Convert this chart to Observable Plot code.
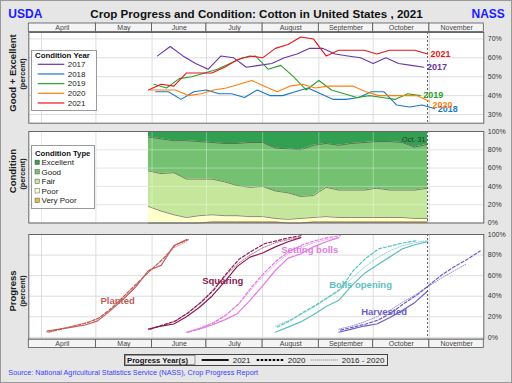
<!DOCTYPE html>
<html><head><meta charset="utf-8">
<script src="https://cdn.jsdelivr.net/npm/d3@7"></script>
<script src="https://cdn.jsdelivr.net/npm/@observablehq/plot@0.6"></script>
<style>
body{margin:0;background:#fff;}
#root{position:relative;width:512px;height:383px;background:#e6e6e6;overflow:hidden;font-family:"Liberation Sans",Arial,Helvetica,sans-serif;}
.vt{position:absolute;transform:translate(-50%,-50%) rotate(-90deg);white-space:nowrap;font-weight:bold;line-height:1;color:#1a1a1a;}
</style></head><body><div id="root"></div>
<script>
// ---------- data ----------
const MONTH_NAMES = ["April","May","June","July","August","September","October","November"];
const MONTH_STARTS = ["04-01","05-01","06-01","07-01","08-01","09-01","10-01","11-01"];

const YEARS = ["2017","2018","2019","2020","2021"];
const YEAR_COLORS = ["#6a35a8","#1a78c2","#2ca02c","#ff7f0e","#e8141c"];

const WEEKS_2017 = ["06-04","06-11","06-18","06-25","07-02","07-09","07-16","07-23","07-30","08-06","08-13","08-20","08-27","09-03","09-10","09-17","09-24","10-01","10-08","10-15","10-22","10-29"];
const WEEKS_2018 = ["06-03","06-10","06-17","06-24","07-01","07-08","07-15","07-22","07-29","08-05","08-12","08-19","08-26","09-02","09-09","09-16","09-23","09-30","10-07","10-14","10-21","10-28","11-04"];
const WEEKS_2019 = ["06-02","06-09","06-16","06-23","06-30","07-07","07-14","07-21","07-28","08-04","08-11","08-18","08-25","09-01","09-08","09-15","09-22","09-29","10-06","10-13","10-20","10-27"];
const WEEKS_2020 = ["04-05","04-12","04-19","04-26","05-03","05-10","05-17","05-24","05-31","06-07","06-14","06-21","06-28","07-05","07-12","07-19","07-26","08-02","08-09","08-16","08-23","08-30","09-06","09-13","09-20","09-27","10-04","10-11","10-18","10-25","11-01","11-08","11-15","11-22","11-29"];
const WEEKS_2021 = ["04-04","04-11","04-18","04-25","05-02","05-09","05-16","05-23","05-30","06-06","06-13","06-20","06-27","07-04","07-11","07-18","07-25","08-01","08-08","08-15","08-22","08-29","09-05","09-12","09-19","09-26","10-03","10-10","10-17","10-24","10-31","11-07","11-14","11-21"];

// Good + Excellent (percent)
const GE_2017 = [61,66,61,57,54,61,60,55,56,57,60,62,65,65,62,61,60,57,60,57,56,55];
const GE_2018 = [42,42,38,42,43,41,41,39,43,40,40,42,44,41,38,38,39,42,42,35,34,35,33];
const GE_2019 = [46,44,49,50,52,54,57,60,61,54,56,50,43,48,43,41,39,40,39,38,41,40];
const GE_2020 = [43,43,43,40,41,43,44,46,48,45,42,45,46,44,45,45,45,42,40,40,40,40,37];
const GE_2021 = [43,46,45,52,52,52,55,59,61,60,65,67,71,70,61,64,64,64,62,64,64,64,62];

// Condition 2021 (percent), weeks May 30 .. Oct 31
const COND_TYPES = ["Excellent","Good","Fair","Poor","Very Poor"];
const COND_COLORS = ["#31a050","#74c271","#c5e79c","#ffffcc","#eeb544"];
const EXCELLENT = [6,8,10,10,11,12,13,13,12,12,18,19,20,15,13,15,13,12,11,11,12,17,14];
const GOOD      = [37,38,35,42,41,40,42,46,49,48,47,48,51,55,48,49,51,52,51,53,52,47,48];
const FAIR      = [39,41,46,42,40,39,37,33,32,33,30,29,24,24,32,30,30,30,32,30,30,31,33];
const POOR      = [18,13,9,6,8,8,7,7,6,6,4,4,5,5,6,5,5,5,5,5,5,4,4];
const VERY_POOR = [0,0,0,0,0,1,1,1,1,1,1,0,0,1,1,1,1,1,1,1,1,1,1];

// Progress (percent)
const STAGES = ["Planted","Squaring","Setting bolls","Bolls opening","Harvested"];
const STAGE_COLORS = ["#c25e5a","#8c1a4f","#e27ae2","#5cc0c0","#6a5fc6"];
const PLANTED_2021 = [6,8,10,12,16,26,37,49,65,70,89,95];
const PLANTED_2020 = [5,8,11,14,19,29,41,53,65,76,90,95];
const PLANTED_AVG  = [5,8,11,14,18,27,39,51,63,75,87,93];
const SQUARING_2021 = [8,11,13,20,29,40,54,69,78,82,88,93,97];
const SQUARING_2020 = [8,12,16,24,34,46,62,76,84,91,94,97,99];
const SQUARING_AVG  = [8,11,15,23,33,45,59,71,80,87,92,95,97];
const SETTING_2021 = [5,8,12,17,23,36,50,65,77,81,88,93,97];
const SETTING_2020 = [5,9,14,22,33,49,63,75,84,90,94,97,99];
const SETTING_AVG  = [5,9,14,21,31,45,59,71,81,87,92,95,97];
const OPENING_2021 = [5,10,15,22,30,36,50,62,70,78,86,90,93];
const OPENING_2020 = [10,16,24,31,39,47,65,77,86,89,92,94];
const OPENING_AVG  = [11,16,22,29,37,45,57,68,77,84,89,92,94];
const HARVESTED_2021 = [5,8,11,13,19,26,34,45];
const HARVESTED_2020 = [7,10,13,17,24,33,41,51,61,69,76,84];
const HARVESTED_AVG  = [8,11,15,20,26,34,41,49,57,64,71];

const TOP_TICKS = [30,40,50,60,70];
const PCT_TICKS = [0,20,40,60,80,100];
const CURRENT_WEEK = "10-31";

// ---------- helpers ----------
const FONT = '"Liberation Sans", Arial, Helvetica, sans-serif';
const toDate = md => new Date(`2021-${md}T00:00:00Z`);
const X_DOMAIN = [toDate("03-25"), toDate("12-01")];
const ML = 28.3, MR = 28.7;
const root = document.getElementById("root");
function put(node, left, top) {
  node.style.position = "absolute";
  node.style.left = left + "px";
  node.style.top = top + "px";
  root.appendChild(node);
  return node;
}
function rows(weeks, start, values, extra) {
  const i0 = weeks.indexOf(start);
  return values.map((v, j) => ({...extra, date: toDate(weeks[i0 + j]), value: v}));
}
const monthDates = MONTH_STARTS.map(toDate);
const cur = toDate(CURRENT_WEEK);
function textDiv(txt, css) { const d = document.createElement("div"); d.textContent = txt; d.style.cssText = css; return d; }

// ---------- title ----------
put(textDiv("Crop Progress and Condition: Cotton in United States , 2021",
  "width:512px;text-align:center;font-weight:bold;font-size:11.6px;line-height:14px;color:#111;white-space:nowrap;"), 0.5, 6.5);
put(textDiv("USDA", "font-weight:bold;font-size:12px;line-height:14px;color:#1a1aff;"), 8.3, 6.5);
put(textDiv("NASS", "font-weight:bold;font-size:12px;line-height:14px;color:#1a1aff;"), 471.5, 6.5);

// ---------- side titles ----------
function vtitle(txt, cx, cy, size) {
  const d = document.createElement("div");
  d.className = "vt"; d.textContent = txt; d.style.fontSize = size + "px";
  put(d, cx, cy);
}
vtitle("Good + Excellent", 12.7, 72.5, 9.5); vtitle("(percent)", 23.3, 74, 7.3);
vtitle("Condition", 13.3, 171, 9.5);        vtitle("(percent)", 23.3, 174, 7.3);
vtitle("Progress", 13, 290.8, 9.5);         vtitle("(percent)", 23.3, 290.5, 7.3);

// ---------- month bars ----------
function monthBar(top) {
  const cells = MONTH_NAMES.map((name, i) => {
    const x1 = i === 0 ? X_DOMAIN[0] : monthDates[i];
    const x2 = i < MONTH_NAMES.length - 1 ? monthDates[i + 1] : X_DOMAIN[1];
    return {name, x1, x2, mid: new Date((+x1 + +x2) / 2)};
  });
  const svg = Plot.plot({
    width: 512, height: 8.5, marginLeft: ML, marginRight: MR, marginTop: 0, marginBottom: 0,
    style: {background: "transparent", fontFamily: FONT, overflow: "visible"},
    x: {type: "utc", domain: X_DOMAIN, axis: null},
    marks: [
      Plot.rect(cells, {x1: "x1", x2: "x2", fill: "#f4f4f4", stroke: "#555", strokeWidth: 0.8}),
      Plot.text(cells, {x: "mid", text: "name", fontSize: 7, fill: "#444"})
    ]
  });
  put(svg, 0, top);
}
monthBar(23.3);
monthBar(338.7);

function rightAxis(ticks) {
  return Plot.axisY(ticks, {anchor: "right", tickSize: 0, tickPadding: 4, tickFormat: d => d + "%", label: null, fontSize: 7, fill: "#333"});
}
function panel({top, bottom, yDomain, color, marks}) {
  const mt = 5, mb = 5;
  const svg = Plot.plot({
    width: 512, height: (bottom - top) + mt + mb,
    marginLeft: ML, marginRight: MR, marginTop: mt, marginBottom: mb,
    style: {background: "transparent", fontFamily: FONT, overflow: "visible", color: "#333"},
    x: {type: "utc", domain: X_DOMAIN, axis: null},
    y: {domain: yDomain, axis: null},
    color,
    marks
  });
  put(svg, 0, top - mt);
}

// ---------- panel 1: Good + Excellent ----------
const GE_SERIES = [
  {year: "2017", weeks: WEEKS_2017, start: "06-04", values: GE_2017},
  {year: "2018", weeks: WEEKS_2018, start: "06-03", values: GE_2018},
  {year: "2019", weeks: WEEKS_2019, start: "06-02", values: GE_2019},
  {year: "2020", weeks: WEEKS_2020, start: "05-31", values: GE_2020},
  {year: "2021", weeks: WEEKS_2021, start: "05-30", values: GE_2021}
];
const geRows = GE_SERIES.flatMap(s => rows(s.weeks, s.start, s.values, {year: s.year}));
const geLast = GE_SERIES.map(s => geRows.filter(d => d.year === s.year).at(-1));

panel({
  top: 32, bottom: 122.7, yDomain: [25.4, 73.4],
  color: {domain: YEARS, range: YEAR_COLORS},
  marks: [
    Plot.frame({fill: "white"}),
    Plot.ruleX(monthDates, {stroke: "#dedede"}),
    Plot.ruleY(TOP_TICKS, {stroke: "#dedede"}),
    Plot.ruleX([cur], {stroke: "#555", strokeDasharray: "2,2"}),
    Plot.line(geRows, {x: "date", y: "value", z: "year", stroke: "year", strokeWidth: 1.1}),
    Plot.text(geLast.filter(d => d.year !== "2020"), {x: "date", y: "value", text: "year", fill: "year", dx: 3, textAnchor: "start", fontWeight: "bold", fontSize: 9}),
    Plot.text(geLast.filter(d => d.year === "2020"), {x: "date", y: "value", text: "year", fill: "year", dx: 3, dy: 4, textAnchor: "start", fontWeight: "bold", fontSize: 9}),
    Plot.frame({stroke: "#666"}),
    rightAxis(TOP_TICKS)
  ]
});

// ---------- panel 2: Condition ----------
const COND_VALUES = [EXCELLENT, GOOD, FAIR, POOR, VERY_POOR];
const condRows = COND_TYPES.flatMap((t, i) => rows(WEEKS_2021, "05-30", COND_VALUES[i], {type: t}));
const stackOrder = [...COND_TYPES].reverse();

panel({
  top: 131, bottom: 222.5, yDomain: [0, 100],
  color: {domain: COND_TYPES, range: COND_COLORS},
  marks: [
    Plot.frame({fill: "white"}),
    Plot.ruleX(monthDates, {stroke: "#dedede"}),
    Plot.ruleY(PCT_TICKS, {stroke: "#dedede"}),
    Plot.areaY(condRows, {x: "date", y: "value", z: "type", fill: "type", order: stackOrder}),
    Plot.lineY(condRows, Plot.stackY2({x: "date", y: "value", z: "type", order: stackOrder, stroke: "#3a3a3a", strokeWidth: 0.6})),
    Plot.ruleX(monthDates, {stroke: "white", strokeOpacity: 0.35}),
    Plot.ruleY([20, 40, 60, 80], {stroke: "white", strokeOpacity: 0.35}),
    Plot.ruleX([cur], {stroke: "#555", strokeDasharray: "2,2"}),
    Plot.text([{date: cur, label: "Oct. 31"}], {x: "date", text: "label", frameAnchor: "top", dx: -2, dy: 5, textAnchor: "end", fontSize: 7.3, fill: "#333"}),
    Plot.frame({stroke: "#666"}),
    rightAxis(PCT_TICKS)
  ]
});

// ---------- panel 3: Progress ----------
const PROGRESS = [
  {stage: "Planted", style: "2021", start: "04-04", values: PLANTED_2021},
  {stage: "Planted", style: "2020", start: "04-05", values: PLANTED_2020},
  {stage: "Planted", style: "avg", start: "04-04", values: PLANTED_AVG},
  {stage: "Squaring", style: "2021", start: "05-30", values: SQUARING_2021},
  {stage: "Squaring", style: "2020", start: "05-31", values: SQUARING_2020},
  {stage: "Squaring", style: "avg", start: "05-30", values: SQUARING_AVG},
  {stage: "Setting bolls", style: "2021", start: "06-20", values: SETTING_2021},
  {stage: "Setting bolls", style: "2020", start: "06-21", values: SETTING_2020},
  {stage: "Setting bolls", style: "avg", start: "06-20", values: SETTING_AVG},
  {stage: "Bolls opening", style: "2021", start: "08-08", values: OPENING_2021},
  {stage: "Bolls opening", style: "2020", start: "08-09", values: OPENING_2020},
  {stage: "Bolls opening", style: "avg", start: "08-08", values: OPENING_AVG},
  {stage: "Harvested", style: "2021", start: "09-12", values: HARVESTED_2021},
  {stage: "Harvested", style: "2020", start: "09-13", values: HARVESTED_2020},
  {stage: "Harvested", style: "avg", start: "09-12", values: HARVESTED_AVG}
];
const progRows = PROGRESS.flatMap(s => rows(s.style === "2020" ? WEEKS_2020 : WEEKS_2021, s.start, s.values, {stage: s.stage, style: s.style}));
// label anchor positions (annotation placement)
const STAGE_LABELS = [
  {stage: "Planted", at: "05-13", pct: 35},
  {stage: "Squaring", at: "07-10", pct: 55},
  {stage: "Setting bolls", at: "08-27", pct: 85},
  {stage: "Bolls opening", at: "09-24", pct: 50.5},
  {stage: "Harvested", at: "10-07", pct: 25}
].map(d => ({...d, date: toDate(d.at)}));

panel({
  top: 234, bottom: 338.5, yDomain: [-1.6, 100],
  color: {domain: STAGES, range: STAGE_COLORS},
  marks: [
    Plot.frame({fill: "white"}),
    Plot.ruleX(monthDates, {stroke: "#dedede"}),
    Plot.ruleY(PCT_TICKS, {stroke: "#dedede"}),
    Plot.line(progRows.filter(d => d.style === "avg"), {x: "date", y: "value", z: "stage", stroke: "stage", strokeWidth: 1, strokeDasharray: "1,1.3", strokeOpacity: 0.65}),
    Plot.line(progRows.filter(d => d.style === "2020"), {x: "date", y: "value", z: "stage", stroke: "stage", strokeWidth: 1.2, strokeDasharray: "3,2"}),
    Plot.line(progRows.filter(d => d.style === "2021"), {x: "date", y: "value", z: "stage", stroke: "stage", strokeWidth: 1.2}),
    Plot.ruleX([cur], {stroke: "#555", strokeDasharray: "2,2"}),
    Plot.text(STAGE_LABELS, {x: "date", y: "pct", text: "stage", fill: "stage", fontWeight: "bold", fontSize: 9.5}),
    Plot.frame({stroke: "#666"}),
    rightAxis(PCT_TICKS)
  ]
});

// ---------- legends ----------
function svgBox(w, h) {
  return d3.create("svg").attr("width", w).attr("height", h)
    .style("font-family", FONT).style("overflow", "visible");
}
{ // Condition Year
  const s = svgBox(66, 61);
  s.append("rect").attr("x", 0.5).attr("y", 0.5).attr("width", 65).attr("height", 60)
    .attr("fill", "white").attr("stroke", "#9a9a9a");
  s.append("text").attr("x", 4).attr("y", 5.5).attr("dy", "0.35em").attr("font-size", 7.8)
    .attr("font-weight", "bold").attr("fill", "#111").text("Condition Year");
  YEARS.forEach((y, i) => {
    const cy = 14.3 + 9.67 * i;
    s.append("line").attr("x1", 6.7).attr("x2", 33.3).attr("y1", cy).attr("y2", cy)
      .attr("stroke", YEAR_COLORS[i]).attr("stroke-width", 1.2);
    s.append("text").attr("x", 36.7).attr("y", cy).attr("dy", "0.35em").attr("font-size", 8)
      .attr("fill", "#222").text(y);
  });
  put(s.node(), 31, 50);
}
{ // Condition Type
  const s = svgBox(64, 64);
  s.append("rect").attr("x", 0.5).attr("y", 0.5).attr("width", 63).attr("height", 63)
    .attr("fill", "white").attr("stroke", "#9a9a9a");
  s.append("text").attr("x", 4).attr("y", 8.3).attr("dy", "0.35em").attr("font-size", 7.7)
    .attr("font-weight", "bold").attr("fill", "#111").text("Condition Type");
  COND_TYPES.forEach((t, i) => {
    const cy = 17.3 + 9.5 * i;
    s.append("rect").attr("x", 4).attr("y", cy - 2.2).attr("width", 4.4).attr("height", 4.4)
      .attr("fill", COND_COLORS[i]).attr("stroke", "#555").attr("stroke-width", 0.5);
    s.append("text").attr("x", 10.5).attr("y", cy).attr("dy", "0.35em").attr("font-size", 8)
      .attr("fill", "#222").text(t);
  });
  put(s.node(), 31, 145);
}
{ // Progress Year(s)
  const s = svgBox(264, 12);
  s.append("rect").attr("x", 0.5).attr("y", 0.5).attr("width", 263).attr("height", 11)
    .attr("fill", "#ececec").attr("stroke", "#444");
  s.append("rect").attr("x", 1.5).attr("y", 1.5).attr("width", 69.5).attr("height", 9)
    .attr("fill", "none").attr("stroke", "#777").attr("stroke-width", 0.7);
  s.append("text").attr("x", 3).attr("y", 6).attr("dy", "0.35em").attr("font-size", 7.7)
    .attr("font-weight", "bold").attr("fill", "#111").text("Progress Year(s)");
  const items = [
    {x: 77.7, label: "2021", dash: null, w: 1.8, c: "#000"},
    {x: 132.7, label: "2020", dash: "2.5,1.5", w: 1.8, c: "#000"},
    {x: 186.7, label: "2016 - 2020", dash: "1,1", w: 1, c: "#777"}
  ];
  items.forEach(it => {
    const l = s.append("line").attr("x1", it.x).attr("x2", it.x + 27).attr("y1", 6).attr("y2", 6)
      .attr("stroke", it.c).attr("stroke-width", it.w);
    if (it.dash) l.attr("stroke-dasharray", it.dash);
    s.append("text").attr("x", it.x + 31).attr("y", 6).attr("dy", "0.35em").attr("font-size", 8)
      .attr("fill", "#222").text(it.label);
  });
  put(s.node(), 124, 353.5);
}

// ---------- source + border ----------
put(textDiv("Source: National Agricultural Statistics Service (NASS), Crop Progress Report",
  "font-size:7.25px;line-height:9px;color:#3c3cff;white-space:nowrap;"), 8.3, 368.2);
const border = document.createElement("div");
border.style.cssText = "width:510px;height:381px;border:1px solid #999;pointer-events:none;";
put(border, 0, 0);
</script></body></html>
